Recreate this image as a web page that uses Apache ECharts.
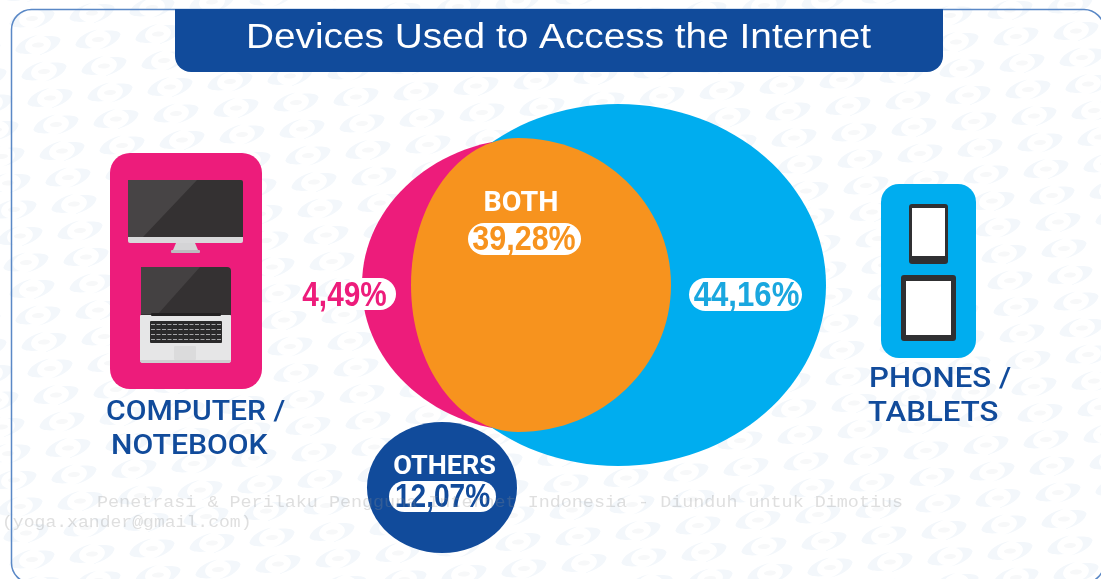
<!DOCTYPE html>
<html>
<head>
<meta charset="utf-8">
<title>Devices Used to Access the Internet</title>
<script src="https://cdn.jsdelivr.net/npm/echarts@6/dist/echarts.min.js"></script>
<style>
  html, body { margin: 0; padding: 0; background: #fff; }
  #chart { width: 1101px; height: 579px; }
</style>
</head>
<body>
<div id="chart"></div>
<script>
// Survey shares, in percent
const regionNames = ['COMPUTER ONLY', 'PHONES ONLY', 'BOTH', 'OTHERS'];
const regionValues = [4.49, 44.16, 39.28, 12.07];
const deviceLabels = [['COMPUTER /', 'NOTEBOOK'], ['PHONES /', 'TABLETS']];
const chartTitle = 'Devices Used to Access the Internet';
const noticeLines = [
  'Penetrasi & Perilaku Pengguna Internet Indonesia - Diunduh untuk Dimotius',
  '(yoga.xander@gmail.com)'
];

const W = 1101, H = 579;
const PINK = '#ed1c7b', ORANGE = '#f7931e', SKY = '#00adef', NAVY = '#114b9b';
const BODY_FONT = 'Roboto, "Noto Sans", sans-serif';
const VALUE_FONT = '"Liberation Sans", sans-serif';

// Shape of each region: centre, left and right half widths, half height.
// Drawing order is the array order, so the shared region sits on top.
const regionShapes = {
  'COMPUTER ONLY': { cx: 531, cy: 285, rl: 169, rr: 169, ry: 147, color: PINK },
  'PHONES ONLY':   { cx: 618, cy: 285, rl: 205, rr: 208, ry: 181, color: SKY },
  'BOTH':          { cx: 518, cy: 285, rl: 107, rr: 153, ry: 147, color: ORANGE },
  'OTHERS':        { cx: 442, cy: 487.5, rl: 75, rr: 75, ry: 65.5, color: NAVY }
};
const drawOrder = ['COMPUTER ONLY', 'PHONES ONLY', 'BOTH', 'OTHERS'];

// White pill and value text for each region
const pillShapes = {
  'COMPUTER ONLY': { x: 340, y: 278, w: 56, h: 32, tx: 344.5, ty: 296, color: PINK, size: 35, sx: 0.85 },
  'PHONES ONLY':   { x: 689, y: 278, w: 113, h: 33, tx: 746.5, ty: 296, color: '#1aa7df', size: 35, sx: 0.89 },
  'BOTH':          { x: 468, y: 223, w: 113, h: 32, tx: 524, ty: 240.5, color: ORANGE, size: 35, sx: 0.87 },
  'OTHERS':        { x: 389, y: 481, w: 107, h: 31, tx: 442.5, ty: 497.5, color: NAVY, size: 33, sx: 0.85 }
};

const fmtPct = v => v.toFixed(2).replace('.', ',') + '%';

// Closed outline made of two half ellipses sharing a top and bottom point
function lobePath(c, s) {
  const k = 0.5523;
  const cx = c[0], cy = c[1], rl = s.rl, rr = s.rr, ry = s.ry;
  return [
    'M', cx, cy - ry,
    'C', cx + rr * k, cy - ry, cx + rr, cy - ry * k, cx + rr, cy,
    'C', cx + rr, cy + ry * k, cx + rr * k, cy + ry, cx, cy + ry,
    'C', cx - rl * k, cy + ry, cx - rl, cy + ry * k, cx - rl, cy,
    'C', cx - rl, cy - ry * k, cx - rl * k, cy - ry, cx, cy - ry, 'Z'
  ].join(' ');
}

function text(str, x, y, size, fill, opts) {
  opts = opts || {};
  return {
    type: 'text', x: x, y: y, scaleX: opts.scaleX || 1, z: opts.z || 1, silent: true,
    style: {
      text: str, x: 0, y: 0, fill: fill,
      font: (opts.weight || 'normal') + ' ' + size + 'px ' + (opts.family || BODY_FONT),
      textAlign: opts.align || 'left', textVerticalAlign: 'middle',
      opacity: opts.opacity == null ? 1 : opts.opacity
    }
  };
}
function rect(x, y, w, h, fill, r, extra) {
  return Object.assign({
    type: 'rect', silent: true, z: 1,
    shape: { x: x, y: y, width: w, height: h, r: r || 0 },
    style: { fill: fill }
  }, extra || {});
}
function poly(points, fill) {
  return { type: 'polygon', silent: true, z: 1, shape: { points: points }, style: { fill: fill } };
}

// Faint repeating logo behind the page: two crescents around a small oval
echarts.graphic.registerShape('logoLeft', echarts.graphic.extendPath(
  'M-23 3 C-21 -3 -12 -9 1 -10 C-8 -8 -13 -4 -13 1 C-13 4 -10 7 -6 8 C-14 8 -22 7 -23 3 Z'));
echarts.graphic.registerShape('logoRight', echarts.graphic.extendPath(
  'M23 -3 C21 3 12 9 -1 10 C8 8 13 4 13 -1 C13 -4 10 -7 6 -8 C14 -8 22 -7 23 -3 Z'));

function backdropMarks() {
  const marks = [];
  for (let i = -4; i < 24; i++) {
    for (let j = -6; j < 26; j++) {
      const x = 50 + 60 * i + 6 * (j - 1);
      const y = 98 - 5.5 * i + 26.5 * (j - 1);
      if (x < -30 || x > W + 30 || y < -20 || y > H + 20) continue;
      marks.push({
        type: 'group', x: x, y: y, rotation: 0.1, silent: true,
        children: [
          { type: 'logoLeft', silent: true, style: { fill: '#f3f7fb' } },
          { type: 'logoRight', silent: true, style: { fill: '#f3f7fb' } },
          { type: 'ellipse', silent: true, shape: { cx: 0, cy: 0, rx: 6, ry: 2.5 }, style: { fill: '#f7f8f9' } }
        ]
      });
    }
  }
  return marks;
}

function computerIcon() {
  const items = [
    rect(110, 153, 152, 236, PINK, 20),
    // desktop monitor
    rect(128, 180, 115, 57, '#343132', [2, 2, 0, 0]),
    poly([[128, 180], [197, 180], [143, 237], [128, 237]], '#474445'),
    rect(128, 237, 115, 6, '#d9d9db', [0, 0, 2, 2]),
    poly([[176, 243], [195, 243], [198, 250], [173, 250]], '#d4d4d6'),
    rect(171, 250, 29, 3, '#bdbdbf', 1),
    // notebook lid
    rect(141, 267, 90, 48, '#343132', [4, 4, 0, 0]),
    poly([[141, 267], [200, 267], [158, 314], [141, 314]], '#444142'),
    // notebook base
    rect(140, 315, 91, 48, '#e6e6e7', [1, 1, 3, 3]),
    rect(140, 360, 91, 3, '#cfcfd1', [0, 0, 3, 3]),
    rect(151, 313, 70, 3, '#232122', 1),
    rect(150, 321, 72, 22, '#2b2a2b', 1),
    rect(174, 346, 22, 14, '#dbdbdc', 1)
  ];
  // key rows on the notebook keyboard
  for (let row = 0; row < 4; row++) {
    items.push({
      type: 'line', silent: true, z: 1,
      shape: { x1: 151, y1: 324.5 + row * 5, x2: 221, y2: 324.5 + row * 5 },
      style: { stroke: '#a5a5a7', lineWidth: 1, lineDash: [4, 1.5] }
    });
  }
  return items;
}

function phoneIcon() {
  return [
    rect(881, 184, 95, 174, SKY, 18),
    rect(909, 204, 39, 60, '#303032', 3),
    rect(912, 208, 33, 48, '#ffffff'),
    rect(901, 275, 55, 66, '#303032', 3),
    rect(906, 281, 45, 54, '#ffffff')
  ];
}

const graphicElements = [].concat(
  backdropMarks(),
  [
    // outer frame, running off the right and bottom edges
    rect(11.5, 9.5, W + 3 - 11.5, H + 4 - 9.5, 'none', 20, {
      style: { fill: 'none', stroke: '#5a88c6', lineWidth: 1.5 }
    }),
    rect(175, 9, 768, 63, NAVY, [0, 0, 16, 16]),
    text(chartTitle, 558.5, 38, 35, '#ffffff', {
      family: '"Liberation Sans", Arial, sans-serif', align: 'center', scaleX: 1.108, z: 5
    })
  ],
  computerIcon(),
  phoneIcon(),
  [
    text(deviceLabels[0][0], 106, 413, 27, NAVY, { weight: 500, scaleX: 1.115 }),
    text(deviceLabels[0][1], 111, 447, 27, NAVY, { weight: 500, scaleX: 1.118 }),
    text(deviceLabels[1][0], 869, 380, 27, NAVY, { weight: 500, scaleX: 1.155 }),
    text(deviceLabels[1][1], 868, 414, 27, NAVY, { weight: 500, scaleX: 1.155 }),
    text('BOTH', 521, 204, 27, '#fff', { weight: 'bold', align: 'center', scaleX: 1.06, z: 5 }),
    text('OTHERS', 444.5, 468, 25, '#fff', { weight: 'bold', align: 'center', scaleX: 1.08, z: 5 }),
    // download notice printed across the page
    text(noticeLines[0], 97, 503, 16, '#8c8c8c', {
      family: '"Liberation Mono", monospace', scaleX: 1.15, opacity: 0.28, z: 10
    }),
    text(noticeLines[1], 2, 523, 16, '#8c8c8c', {
      family: '"Liberation Mono", monospace', scaleX: 1.13, opacity: 0.28, z: 10
    })
  ]
);

const chart = echarts.init(document.getElementById('chart'), null, { renderer: 'canvas' });
chart.setOption({
  animation: false,
  backgroundColor: '#ffffff',
  grid: { left: 0, right: 0, top: 0, bottom: 0 },
  xAxis: { type: 'value', min: 0, max: W, show: false },
  yAxis: { type: 'value', min: 0, max: H, inverse: true, show: false },
  graphic: { elements: graphicElements },
  series: [
    {
      name: 'regions',
      type: 'custom',
      coordinateSystem: 'cartesian2d',
      silent: true,
      clip: false,
      data: drawOrder.map(name => ({ name: name, value: [regionShapes[name].cx, regionShapes[name].cy] })),
      renderItem(params, api) {
        const s = regionShapes[drawOrder[params.dataIndex]];
        const c = api.coord([api.value(0), api.value(1)]);
        return {
          type: 'path',
          shape: { pathData: lobePath(c, s) },
          style: { fill: s.color }
        };
      }
    },
    {
      name: 'shares',
      type: 'custom',
      coordinateSystem: 'cartesian2d',
      silent: true,
      clip: false,
      z: 4,
      data: regionNames.map((name, i) => ({ name: name, value: [pillShapes[name].tx, pillShapes[name].ty, regionValues[i]] })),
      renderItem(params, api) {
        const p = pillShapes[regionNames[params.dataIndex]];
        const c = api.coord([api.value(0), api.value(1)]);
        return {
          type: 'group',
          children: [
            {
              type: 'rect',
              shape: { x: p.x, y: p.y, width: p.w, height: p.h, r: p.h / 2 },
              style: { fill: '#ffffff' }
            },
            {
              type: 'text',
              x: c[0], y: c[1], scaleX: p.sx,
              style: {
                text: fmtPct(api.value(2)),
                fill: p.color,
                font: 'bold ' + p.size + 'px ' + VALUE_FONT,
                textAlign: 'center', textVerticalAlign: 'middle'
              }
            }
          ]
        };
      }
    }
  ]
});
</script>
</body>
</html>
